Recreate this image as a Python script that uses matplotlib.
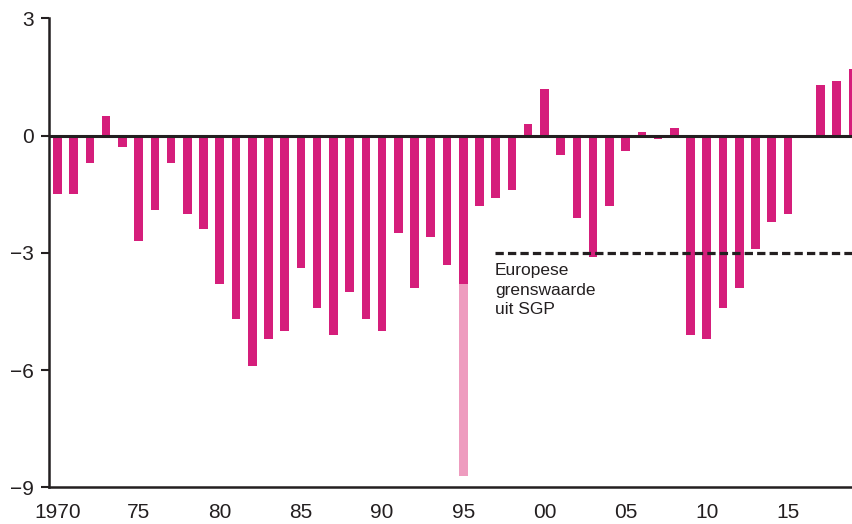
"""EMU-saldo Nederland 1970-2019 (in procenten bbp)"""

import matplotlib
matplotlib.use("Agg")
import matplotlib.pyplot as plt

plt.rcParams['font.family'] = ['Liberation Sans', 'DejaVu Sans']

years = list(range(1970, 2020))
saldo = [
    -1.5, -1.5, -0.7, 0.5, -0.3, -2.7, -1.9, -0.7, -2.0, -2.4,   # 1970-79
    -3.8, -4.7, -5.9, -5.2, -5.0, -3.4, -4.4, -5.1, -4.0, -4.7,  # 1980-89
    -5.0, -2.5, -3.9, -2.6, -3.3, -3.8, -1.8, -1.6, -1.4, 0.3,   # 1990-99
    1.2, -0.5, -2.1, -3.1, -1.8, -0.4, 0.1, -0.1, 0.2, -5.1,     # 2000-09
    -5.2, -4.4, -3.9, -2.9, -2.2, -2.0, 0.0, 1.3, 1.4, 1.7,      # 2010-19
]
# 1995: incl. eenmalig effect, totaal -8.7
extra_year = 1995
extra_total = -8.7

tick_years = [1970, 1975, 1980, 1985, 1990, 1995, 2000, 2005, 2010, 2015]
tick_labels = ['1970', '75', '80', '85', '90', '95', '00', '05', '10', '15']
grens = -3
grens_start = 1997

magenta = '#D51E7B'
light = '#EE9CBF'
dark = '#231F20'

fig = plt.figure(figsize=(8.53, 5.24), dpi=100)
ax = fig.add_axes([0.0574, 0.070, 0.9426, 0.895])

idx = years.index(extra_year)
ax.bar([extra_year], [extra_total - saldo[idx]], bottom=saldo[idx],
       width=0.53, color=light, linewidth=0, zorder=2)
ax.bar(years, saldo, width=0.53, color=magenta, linewidth=0, zorder=2)

ax.axhline(0, color=dark, linewidth=2.2, zorder=3)
ax.plot([grens_start - 0.05, 2019.5], [grens, grens], color=dark,
        linewidth=2.3, linestyle=(0, (2.6, 1.3)), zorder=4)
ax.text(grens_start - 0.05, -3.27, "Europese\ngrenswaarde\nuit SGP",
        fontsize=12.5, color=dark, va='top', ha='left', linespacing=1.35)

ax.set_xlim(1969.48, 2019.01)
ax.set_ylim(-9, 3)
ax.set_yticks([3, 0, -3, -6, -9])
ax.set_yticklabels(['3', '0', '\u22123', '\u22126', '\u22129'])
ax.set_xticks(tick_years)
ax.set_xticklabels(tick_labels)

for side in ['top', 'right']:
    ax.spines[side].set_visible(False)
for side in ['left', 'bottom']:
    ax.spines[side].set_color(dark)
    ax.spines[side].set_linewidth(1.8)

ax.tick_params(axis='y', length=6, width=1.5, color=dark, pad=5,
               labelsize=15, labelcolor=dark)
ax.tick_params(axis='x', length=0, pad=11, labelsize=15, labelcolor=dark)

fig.savefig("out.png", dpi=100)
